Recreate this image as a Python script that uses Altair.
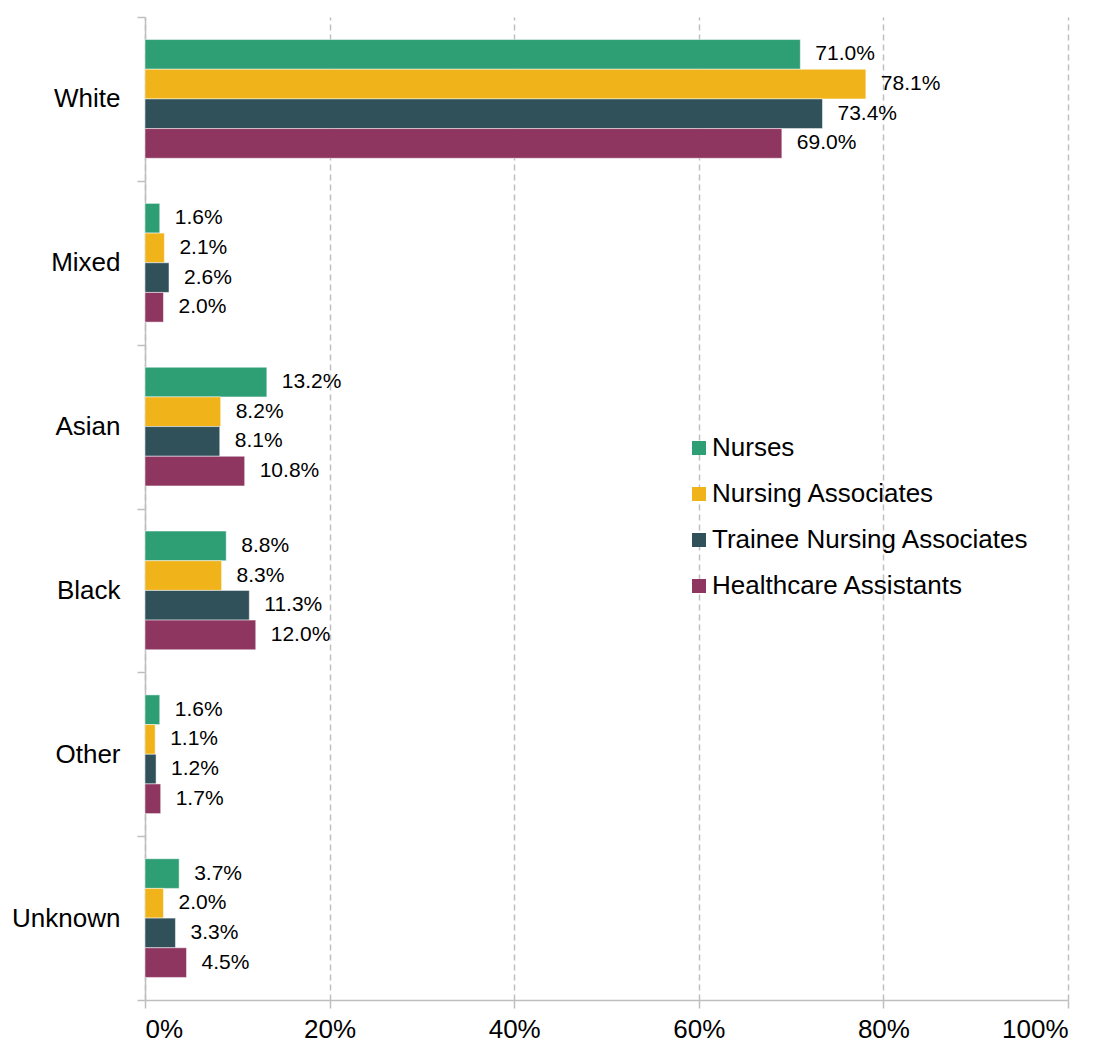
import altair as alt
import pandas as pd

categories = ["White", "Mixed", "Asian", "Black", "Other", "Unknown"]
series = ["Nurses", "Nursing Associates", "Trainee Nursing Associates", "Healthcare Assistants"]
nurses = [71.0, 1.6, 13.2, 8.8, 1.6, 3.7]
nursing_associates = [78.1, 2.1, 8.2, 8.3, 1.1, 2.0]
trainee_nursing_associates = [73.4, 2.6, 8.1, 11.3, 1.2, 3.3]
healthcare_assistants = [69.0, 2.0, 10.8, 12.0, 1.7, 4.5]
colors = ["#2E9E74", "#F0B41A", "#30505A", "#8E3560"]

rows = []
for s, vals in zip(series, [nurses, nursing_associates, trainee_nursing_associates, healthcare_assistants]):
    for c, v in zip(categories, vals):
        rows.append({"category": c, "series": s, "value": v})
df = pd.DataFrame(rows)

FONT = "Liberation Sans"
GRAY = "#BFBFBF"

y = alt.Y("category:N", sort=categories, title=None,
          scale=alt.Scale(paddingInner=0, paddingOuter=0),
          axis=alt.Axis(tickBand="extent", domainColor=GRAY, tickColor=GRAY,
                        tickSize=8, labelFontSize=26, labelFont=FONT, labelColor="#000000",
                        labelPadding=17, grid=False, domainWidth=1.5, tickWidth=1.5))
x = alt.X("value:Q", title=None, scale=alt.Scale(domain=[0, 100], nice=False),
          axis=alt.Axis(values=[0, 20, 40, 60, 80, 100], labelExpr="datum.value + '%'",
                        grid=True, gridDash=[6, 4], gridColor=GRAY, gridWidth=1.5,
                        domainColor=GRAY, tickColor=GRAY, tickSize=8,
                        domainWidth=1.5, tickWidth=1.5,
                        labelFontSize=26, labelFont=FONT, labelColor="#000000", labelPadding=8))
yoff = alt.YOffset("series:N", sort=series,
                   scale=alt.Scale(paddingInner=0, paddingOuter=0.76))

base = alt.Chart(df).encode(y=y, yOffset=yoff)

bars = base.mark_bar(stroke="white", strokeWidth=0.5).encode(
    x=x,
    color=alt.Color("series:N", sort=series,
                    scale=alt.Scale(domain=series, range=colors),
                    legend=alt.Legend(title=None, orient="none", legendX=541, legendY=418,
                                      symbolType="square", symbolSize=196, symbolStrokeWidth=0,
                                      labelFontSize=26, labelFont=FONT, labelColor="#000000",
                                      labelOffset=0, rowPadding=20, padding=0, labelLimit=500)),
)

labels = base.mark_text(align="left", baseline="middle", dx=15, fontSize=21, font=FONT,
                        color="#000000").transform_calculate(
    label="format(datum.value, '.1f') + '%'"
).encode(x=alt.X("value:Q"), text="label:N")

chart = alt.layer(bars, labels).properties(
    width=1090, height=1034,
    autosize=alt.AutoSizeParams(type="fit", contains="padding"),
    padding={"left": 3, "top": -4, "right": 29, "bottom": 0}
).configure_view(stroke=None)

chart.save("out.html", embed_options={"renderer": "svg", "actions": False})
